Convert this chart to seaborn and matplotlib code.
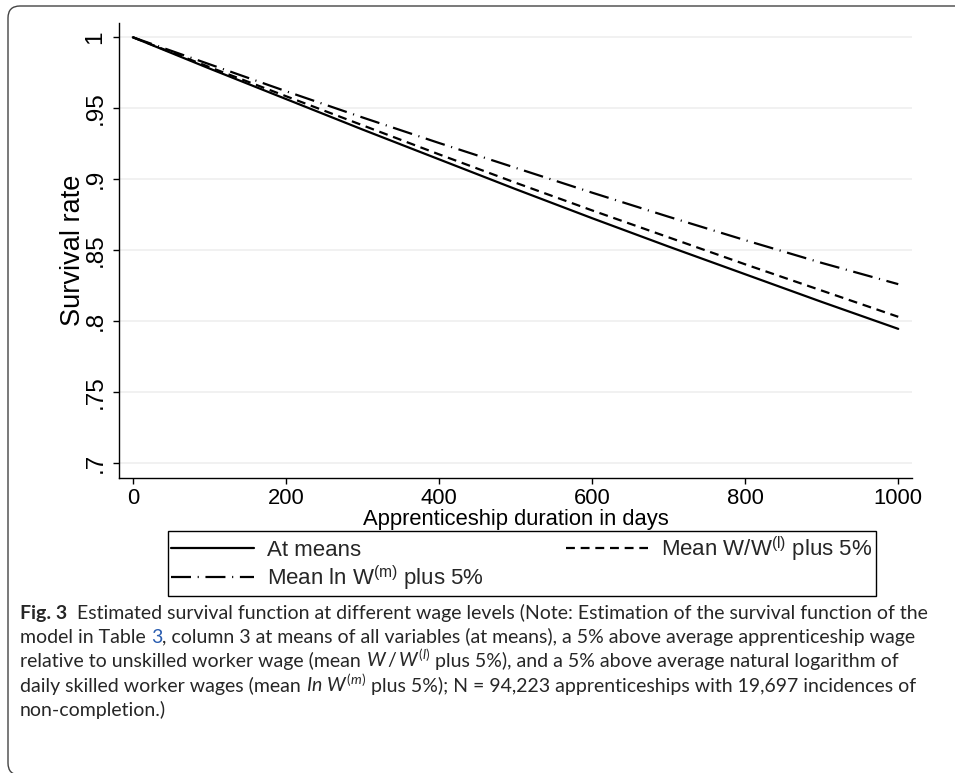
import pandas as pd
import matplotlib.pyplot as plt
import seaborn as sns
from matplotlib.patches import FancyBboxPatch

days = [0, 100, 200, 300, 400, 500, 600, 700, 800, 900, 1000]
at_means = [1.0, 0.978, 0.9565, 0.935, 0.914, 0.893, 0.8725, 0.8525, 0.833, 0.8135, 0.7945]
wage_rel = [1.0, 0.979, 0.9585, 0.938, 0.9175, 0.8975, 0.878, 0.859, 0.840, 0.8215, 0.803]
wage_skilled = [1.0, 0.981, 0.962, 0.9435, 0.9255, 0.908, 0.8905, 0.8735, 0.857, 0.841, 0.826]

labels = ["At means",
          r"Mean W/W$^{\mathregular{(l)}}$ plus 5%",
          r"Mean ln W$^{\mathregular{(m)}}$ plus 5%"]
yticks = [0.7, 0.75, 0.8, 0.85, 0.9, 0.95, 1.0]
ytick_labels = [".7", ".75", ".8", ".85", ".9", ".95", "1"]
xticks = [0, 200, 400, 600, 800, 1000]


def draw_runs(fig, renderer, x_px, y, runs, size, family):
    # place text pieces one after another on one line
    W = fig.bbox.width
    for text, props in runs:
        t = fig.text(x_px / W, y, text, fontsize=size, family=family,
                     va="baseline", ha="left", **props)
        x_px += t.get_window_extent(renderer).width


def main():
    sns.set_theme(style="white")
    plt.rcParams["font.family"] = ["Liberation Sans", "DejaVu Sans"]
    plt.rcParams["mathtext.fontset"] = "custom"
    plt.rcParams["mathtext.rm"] = "Lato"
    plt.rcParams["mathtext.it"] = "Lato:italic"

    df = pd.DataFrame({
        "days": days * 3,
        "survival": at_means + wage_rel + wage_skilled,
        "series": [labels[0]] * len(days) + [labels[1]] * len(days) + [labels[2]] * len(days),
    })

    fig = plt.figure(figsize=(9.55, 7.73), dpi=100)
    ax = fig.add_axes([0.1246, 0.3816, 0.8304, 0.5884])
    sns.lineplot(data=df, x="days", y="survival", style="series", hue="series",
                 palette=["black"] * 3, style_order=labels, hue_order=labels,
                 dashes={labels[0]: "", labels[1]: (4, 2.6), labels[2]: (9, 3, 0.5, 3)},
                 linewidth=1.6, ax=ax, legend=False)

    ax.set_xlim(-18, 1018)
    ax.set_ylim(0.6894, 1.0099)
    ax.set_yticks(yticks)
    ax.set_yticklabels(ytick_labels, rotation=90, va="center", fontsize=17.5)
    ax.set_xticks(xticks)
    ax.set_xticklabels([str(v) for v in xticks], fontsize=15.8)
    ax.tick_params(axis="both", which="both", direction="out", length=4, width=1,
                   color="black", labelcolor="black", pad=5,
                   left=True, bottom=True)
    ax.tick_params(axis="x", pad=3)
    for s in ["top", "right"]:
        ax.spines[s].set_visible(False)
    for s in ["left", "bottom"]:
        ax.spines[s].set_color("black")
        ax.spines[s].set_linewidth(1)
    ax.yaxis.grid(True, color="#efefef", linewidth=1.2)
    ax.xaxis.grid(False)
    ax.set_xlabel("Apprenticeship duration in days", fontsize=15.8, color="black", labelpad=0)
    ax.set_ylabel("Survival rate", fontsize=19.5, color="black", labelpad=-1)

    lines = ax.get_lines()[:3]
    handles = [lines[0], lines[2], lines[1]]
    leg_labels = [labels[0], labels[2], labels[1]]
    leg = fig.legend(handles, leg_labels, ncol=2, mode="expand",
                     bbox_to_anchor=(0.176, 1 - 596 / 773, 0.741, 0.06), loc="lower left",
                     borderaxespad=0, fontsize=16, frameon=True, fancybox=False,
                     edgecolor="black", framealpha=1,
                     handlelength=3.7, handletextpad=0.6, labelspacing=0.1,
                     borderpad=0.15, columnspacing=1.0)
    leg.get_frame().set_linewidth(1)

    # page frame (display coords, origin bottom left)
    frame = FancyBboxPatch((8, -2), 1000, 769, boxstyle="round,pad=0,rounding_size=12",
                           transform=None, fill=False, edgecolor="#444444",
                           linewidth=1.0, clip_on=False)
    fig.patches.append(frame)

    # caption
    renderer = fig.canvas.get_renderer()
    fam = ["Lato", "Liberation Sans"]
    size = 14.0
    H = fig.bbox.height
    ys = [1 - 619 / H, 1 - 643 / H, 1 - 667 / H, 1 - 692 / H, 1 - 716 / H]
    draw_runs(fig, renderer, 20, ys[0], [
        ("Fig. 3", {"weight": "bold"}),
        ("  Estimated survival function at different wage levels (Note: Estimation of the survival function of the", {}),
    ], size, fam)
    draw_runs(fig, renderer, 20, ys[1], [
        ("model in Table ", {}),
        ("3", {"color": "#2a5db0"}),
        (", column 3 at means of all variables (at means), a 5% above average apprenticeship wage", {}),
    ], size, fam)
    draw_runs(fig, renderer, 20, ys[2], [
        ("relative to unskilled worker wage (mean ", {}),
        (r"$W\,/\,W^{(l)}$", {}),
        (" plus 5%), and a 5% above average natural logarithm of", {}),
    ], size, fam)
    draw_runs(fig, renderer, 20, ys[3], [
        ("daily skilled worker wages (mean ", {}),
        (r"$In\ W^{(m)}$", {}),
        (" plus 5%); N = 94,223 apprenticeships with 19,697 incidences of", {}),
    ], size, fam)
    draw_runs(fig, renderer, 20, ys[4], [("non-completion.)", {})], size, fam)

    plt.savefig("out.png", dpi=100)
    plt.close("all")


if __name__ == "__main__":
    main()
